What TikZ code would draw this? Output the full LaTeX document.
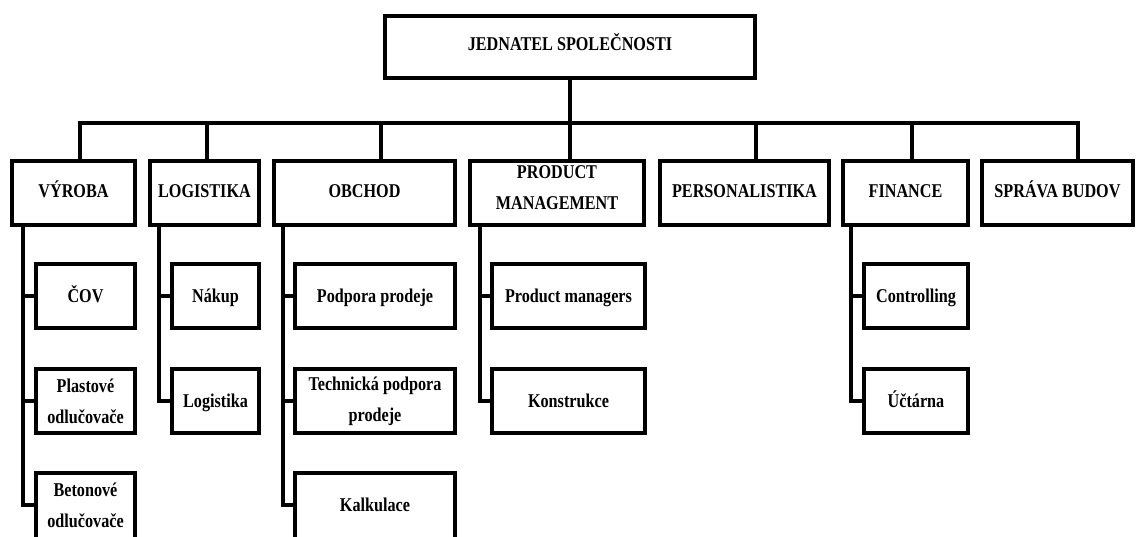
\documentclass[tikz,border=0pt]{standalone}
\usepackage{fontspec}
\setmainfont{Liberation Serif}[FakeStretch=0.83]
\begin{document}
\begin{tikzpicture}[x=1pt,y=-1pt,
  lw/.style={line width=3.8pt},
  box/.style={lw,draw=black,fill=white,align=center,inner sep=2pt,
    font=\fontsize{19.5}{31}\selectfont\bfseries},
  one/.style={text height=13.5pt,text depth=#1},
  one/.default=0pt,
  openbox/.style={box,draw=none,fill=none,outer sep=0pt,
    minimum width=#1,minimum height=64pt},
  conn/.style={lw,line cap=rect,line join=miter}]
\useasboundingbox (0,0) rectangle (1137,537);
\clip (0,0) rectangle (1137,537);
% top
\node[box,one=6pt,minimum width=370pt,minimum height=62pt] (top) at (570,47) {JEDNATEL SPOLEČNOSTI};
% level 1
\node[box,one=5pt,minimum width=123pt,minimum height=64pt] (vyroba) at (73.5,193) {VÝROBA};
\node[box,one=5pt,minimum width=109pt,minimum height=64pt] (logistika) at (204.5,193) {LOGISTIKA};
\node[box,one=5pt,minimum width=181pt,minimum height=64pt] (obchod) at (364.5,193) {OBCHOD};
\node[box,minimum width=174pt,minimum height=64pt] (product) at (557,193) {\smash{\begin{tabular}{@{}c@{}}PRODUCT\\MANAGEMENT\end{tabular}}};
\node[box,one=5pt,minimum width=169pt,minimum height=64pt] (personal) at (744.5,193) {PERSONALISTIKA};
\node[box,one=5pt,minimum width=125pt,minimum height=64pt] (finance) at (905.5,193) {FINANCE};
\node[box,one=5pt,minimum width=151pt,minimum height=64pt] (sprava) at (1057.5,193) {SPRÁVA BUDOV};
% level 2
\node[box,one,minimum width=99pt,minimum height=64pt] (cov) at (85.5,296) {ČOV};
\node[box,minimum width=99pt,minimum height=64pt] (plast) at (85.5,401) {Plastové\\odlučovače};
\node[openbox=99pt] (beton) at (85.5,505) {Betonové\\odlučovače};
\node[box,one,minimum width=87pt,minimum height=64pt] (nakup) at (215.5,296) {Nákup};
\node[box,one,minimum width=87pt,minimum height=64pt] (logsub) at (215.5,401) {Logistika};
\node[box,one,minimum width=160pt,minimum height=64pt] (podpora) at (375,296) {Podpora prodeje};
\node[box,minimum width=160pt,minimum height=64pt] (tech) at (375,401) {Technická podpora\\prodeje};
\node[openbox=160pt,one] (kalk) at (375,505) {Kalkulace};
\node[box,one,minimum width=153pt,minimum height=64pt] (pm) at (568.5,296) {Product managers};
\node[box,one,minimum width=153pt,minimum height=64pt] (konstr) at (568.5,401) {Konstrukce};
\node[box,one,minimum width=104pt,minimum height=64pt] (ctrl) at (916,296) {Controlling};
\node[box,one,minimum width=104pt,minimum height=64pt] (uct) at (916,401) {Účtárna};
% bottom row boxes, cut by the lower edge
\draw[lw] ([yshift=-20pt]beton.south west) |- (beton.north east) -- ([yshift=-20pt]beton.south east);
\draw[lw] ([yshift=-20pt]kalk.south west) |- (kalk.north east) -- ([yshift=-20pt]kalk.south east);
% bus coordinates
\coordinate (b1) at (80,123);
\coordinate (b2) at (207,123);
\coordinate (b3) at (381,123);
\coordinate (b4) at (570,123);
\coordinate (b5) at (756,123);
\coordinate (b6) at (912,123);
\coordinate (b7) at (1078,123);
% vine coordinates
\coordinate (v1) at (23,0);
\coordinate (v2) at (159,0);
\coordinate (v3) at (283,0);
\coordinate (v4) at (480,0);
\coordinate (v5) at (851,0);
% connectors
\draw[conn] (top.south) -- (b4);
\draw[conn] (b1) -- (b7);
\foreach \b/\n in {b1/vyroba,b2/logistika,b3/obchod,b4/product,b5/personal,b6/finance,b7/sprava}
  \draw[conn] (\b) -- (\b |- \n.north);
% vines
\draw[conn] (v1 |- vyroba.south) -- (v1 |- beton.west) -- (beton.west);
\draw[conn] (v1 |- cov.west) -- (cov.west);
\draw[conn] (v1 |- plast.west) -- (plast.west);
\draw[conn] (v2 |- logistika.south) -- (v2 |- logsub.west) -- (logsub.west);
\draw[conn] (v2 |- nakup.west) -- (nakup.west);
\draw[conn] (v3 |- obchod.south) -- (v3 |- kalk.west) -- (kalk.west);
\draw[conn] (v3 |- podpora.west) -- (podpora.west);
\draw[conn] (v3 |- tech.west) -- (tech.west);
\draw[conn] (v4 |- product.south) -- (v4 |- konstr.west) -- (konstr.west);
\draw[conn] (v4 |- pm.west) -- (pm.west);
\draw[conn] (v5 |- finance.south) -- (v5 |- uct.west) -- (uct.west);
\draw[conn] (v5 |- ctrl.west) -- (ctrl.west);
\end{tikzpicture}
\end{document}
